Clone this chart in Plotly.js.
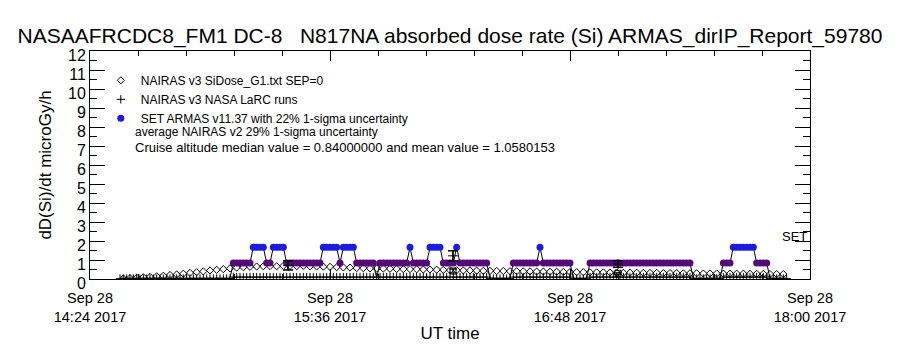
<!DOCTYPE html>
<html>
<head>
<meta charset="utf-8">
<script src="https://cdn.plot.ly/plotly-3.0.1.min.js"></script>
<style>html,body{margin:0;padding:0;background:#fff;}#chart{width:900px;height:350px;}</style>
</head>
<body>
<div id="chart"></div>
<script>
// ---- data (minutes after 2017-09-28 14:24 UT) ----
const armasStartMin = 9;          // first ARMAS sample
const armasCadenceMin = 1;        // ARMAS sample spacing
const armasDose = [
 0.05,0.05,0.05,0.05,0.05,0.05,0.05,0.05,0.05,0.05,0.05,0.05,0.05,0.05,0.05,0.05,0.05,
 0.05,0.05,0.05,0.05,0.05,0.05,0.05,0.05,0.05,0.05,0.05,0.05,0.05,0.05,0.05,0.05,0.05,
 0.84,0.84,0.84,0.84,0.84,0.84,
 1.67,1.67,1.67,1.67,
 0.84,0.84,
 1.67,1.67,1.67,1.67,
 0.84,0.84,0.84,0.84,0.84,0.84,0.84,0.84,0.84,0.84,0.84,
 1.67,1.67,1.67,1.67,1.67,
 0.84,
 1.67,1.67,1.67,1.67,
 0.84,0.84,0.84,0.84,0.84,0.84,
 0.05,
 0.84,0.84,0.84,0.84,0.84,0.84,0.84,0.84,0.84,
 1.67,
 0.84,0.84,0.84,0.84,0.84,
 1.67,1.67,1.67,1.67,
 0.84,0.84,0.84,0.84,
 1.67,
 0.84,0.84,0.84,0.84,0.84,0.84,0.84,0.84,0.84,
 0.05,0.05,0.05,0.05,0.05,0.05,0.05,
 0.84,0.84,0.84,0.84,0.84,0.84,0.84,0.84,
 1.67,
 0.84,0.84,0.84,0.84,0.84,0.84,0.84,0.84,0.84,
 0.05,0.05,0.05,0.05,0.05,
 0.84,0.84,0.84,0.84,0.84,0.84,0.84,0.84,0.84,0.84,0.84,0.84,0.84,0.84,0.84,0.84,
 0.84,0.84,0.84,0.84,0.84,0.84,0.84,0.84,0.84,0.84,0.84,0.84,0.84,0.84,0.84,
 0.05,0.05,0.05,0.05,0.05,0.05,0.05,0.05,0.05,
 0.84,0.84,0.84,
 1.67,1.67,1.67,1.67,1.67,1.67,1.67,
 0.84,0.84,0.84,0.84,
 0.05,0.05,0.05,0.05,0.05,0.05
];

const larcStartMin = 9;
const larcCadenceMin = 1;
const larcDose = [
 0.02,0.02,0.02,0.02,0.02,0.02,0.02,0.02,0.02,0.02,0.02,0.02,0.02,0.02,0.02,0.02,0.02,
 0.02,0.02,0.02,0.02,0.02,0.02,0.02,0.02,0.02,0.02,0.02,0.02,0.02,0.02,0.02,0.02,0.02,
 0.1,0.1,0.1,0.1,0.1,0.1,0.1,0.1,0.1,0.1,0.1,0.1,0.1,0.1,0.1,0.1,0.1,0.1,0.1,0.1,
 0.1,0.1,0.1,0.1,0.1,0.1,0.1,0.1,0.1,0.1,0.1,0.1,0.1,0.1,0.1,0.1,0.1,0.1,0.1,0.1,
 0.1,0.1,0.1,0.1,0.1,0.1,0.1,0.1,0.1,0.1,0.1,0.1,0.1,0.1,0.1,0.1,0.1,0.1,0.1,0.1,
 0.1,0.1,0.1,0.1,0.1,0.1,0.1,0.1,0.1,0.1,0.1,0.1,0.1,0.1,0.1,0.1,0.1,
 0.02,0.02,0.02,0.02,0.02,0.02,0.02,
 0.1,0.1,0.1,0.1,0.1,0.1,0.1,0.1,0.1,0.1,0.1,0.1,0.1,0.1,0.1,0.1,0.1,0.1,
 0.02,0.02,0.02,0.02,0.02,
 0.1,0.1,0.1,0.1,0.1,0.1,0.1,0.1,0.1,0.1,0.1,0.1,0.1,0.1,0.1,0.1,
 0.1,0.1,0.1,0.1,0.1,0.1,0.1,0.1,0.1,0.1,0.1,0.1,0.1,0.1,0.1,
 0.02,0.02,0.02,0.02,0.02,0.02,0.02,0.02,0.02,
 0.1,0.1,0.1,0.1,0.1,0.1,0.1,0.1,0.1,0.1,0.1,0.1,0.1,0.1,
 0.02,0.02,0.02,0.02,0.02,0.02
];

const nairasStartMin = 10;
const nairasCadenceMin = 2;
const nairasDose = [
 0.03,0.05,0.07,0.09,0.11,0.14,0.17,0.21,0.24,0.28,0.32,0.36,0.40,0.45,0.48,0.52,0.56,0.60,0.62,0.64,
 0.66,0.67,0.68,0.67,0.69,0.69,0.68,0.69,0.67,0.66,0.65,0.64,0.62,0.61,0.60,0.58,0.57,0.56,0.55,0.55,
 0.54,0.53,0.52,0.52,0.51,0.50,0.50,0.49,0.48,0.47,0.46,0.45,0.45,0.44,0.43,0.43,0.42,0.42,0.41,0.41,
 0.40,0.40,0.39,0.39,0.38,0.38,0.37,0.37,0.36,0.36,0.35,0.35,0.35,0.34,0.34,0.33,0.33,0.33,0.32,0.32,
 0.32,0.31,0.31,0.31,0.30,0.30,0.30,0.29,0.29,0.29,0.28,0.28,0.28,0.28,0.27,0.27,0.27,0.26,0.26,0.26
];

const errMin = [59.4, 108.9, 158.4];
const errDose = [0.72, 1.22, 0.79];
const errSigma = [0.24, 0.27, 0.17];
const errLowMin = [108.9, 158.4];
const errLowDose = [0.42, 0.30];
const errLowSigma = [0.10, 0.05];

const xTickMin = [0, 72, 144, 216];
const xTickText = ['Sep 28<br>14:24 2017','Sep 28<br>15:36 2017','Sep 28<br>16:48 2017','Sep 28<br>18:00 2017'];

const PURPLE = '#560a7a', BLUE = '#1c1ce0';

function minToDate(m) {
  let s = Math.round((14*60 + 24 + m) * 60);
  const h = Math.floor(s/3600); s -= h*3600;
  const mi = Math.floor(s/60); const se = s - mi*60;
  const p = v => String(v).padStart(2,'0');
  return '2017-09-28 ' + p(h) + ':' + p(mi) + ':' + p(se);
}
const seriesX = (start, step, arr) => arr.map((_, i) => minToDate(start + i*step));

const ax = seriesX(armasStartMin, armasCadenceMin, armasDose);
const px = [], py = [], bx = [], by = [];
armasDose.forEach((v, i) => {
  if (v > 1.2) { bx.push(ax[i]); by.push(v); }
  else if (v > 0.5) { px.push(ax[i]); py.push(v); }
});

const traces = [
  {x: seriesX(nairasStartMin, nairasCadenceMin, nairasDose), y: nairasDose, mode: 'markers', type: 'scatter',
   name: 'NAIRAS v3 SiDose_G1.txt SEP=0',
   marker: {symbol: 'diamond-open', size: 5.5, color: '#000', line: {width: 1, color: '#000'}}},
  {x: seriesX(larcStartMin, larcCadenceMin, larcDose), y: larcDose, mode: 'markers', type: 'scatter',
   name: 'NAIRAS v3 NASA LaRC runs',
   marker: {symbol: 'cross-thin-open', size: 6, color: '#000', line: {width: 1, color: '#000'}}},
  {x: ax, y: armasDose, mode: 'lines', type: 'scatter', showlegend: false,
   line: {color: '#000', width: 1}},
  {x: px, y: py, mode: 'markers', type: 'scatter', showlegend: false,
   marker: {symbol: 'circle', size: 7, color: PURPLE}},
  {x: bx, y: by, mode: 'markers', type: 'scatter',
   name: 'SET ARMAS v11.37 with 22% 1-sigma uncertainty',
   marker: {symbol: 'circle', size: 7, color: BLUE}},
  {x: errMin.map(minToDate), y: errDose, mode: 'markers', type: 'scatter', showlegend: false,
   marker: {symbol: 'cross-thin-open', size: 7, color: '#000', line: {width: 1, color: '#000'}},
   error_y: {type: 'data', array: errSigma, visible: true, color: '#000', thickness: 1.5, width: 5}},
  {x: errLowMin.map(minToDate), y: errLowDose, mode: 'markers', type: 'scatter', showlegend: false,
   marker: {symbol: 'square-open', size: 6, color: '#000', line: {width: 1, color: '#000'}},
   error_y: {type: 'data', array: errLowSigma, visible: true, color: '#000', thickness: 1, width: 4}}
];

const FONT = 'Liberation Sans, Arial, sans-serif';
const minorX = [];
for (let k = 0; k <= 15; k++) minorX.push(minToDate(k*14.4));

const layout = {
  width: 900, height: 350,
  margin: {l: 90, r: 90, t: 51, b: 71, pad: 0},
  paper_bgcolor: '#fff', plot_bgcolor: '#fff',
  font: {family: FONT, color: '#000', size: 14},
  title: {text: 'NASAAFRCDC8_FM1 DC-8   N817NA absorbed dose rate (Si) ARMAS_dirIP_Report_59780',
          font: {family: FONT, size: 21, color: '#000'}, x: 0.5, xanchor: 'center',
          y: 1 - 36/350, yref: 'container', yanchor: 'middle'},
  xaxis: {
    type: 'date', range: [minToDate(0), minToDate(216)],
    tickmode: 'array', tickvals: xTickMin.map(minToDate), ticktext: xTickText,
    ticks: 'inside', ticklen: 10, tickwidth: 1, tickcolor: '#000',
    showline: true, linecolor: '#000', linewidth: 1, mirror: 'allticks',
    showgrid: false, zeroline: false,
    tickfont: {family: FONT, size: 14.5, color: '#000'}, ticklabelstandoff: 6,
    minor: {ticks: 'inside', ticklen: 5, tickwidth: 1, tickcolor: '#000', tickmode: 'array', tickvals: minorX, showgrid: false},
    title: {text: 'UT time', font: {family: FONT, size: 17, color: '#000'}, standoff: 2}
  },
  yaxis: {
    range: [0, 12], tickmode: 'linear', tick0: 0, dtick: 1,
    ticks: 'inside', ticklen: 15, tickwidth: 1, tickcolor: '#000',
    showline: true, linecolor: '#000', linewidth: 1, mirror: 'allticks',
    showgrid: false, zeroline: false,
    tickfont: {family: FONT, size: 16, color: '#000'}, ticklabelshift: 4,
    minor: {ticks: 'inside', ticklen: 7, tickwidth: 1, tickcolor: '#000', dtick: 0.5, showgrid: false},
    title: {text: 'dD(Si)/dt microGy/h', font: {family: FONT, size: 17, color: '#000'}, standoff: 12}
  },
  legend: {x: 0.015, y: 0.935, xanchor: 'left', yanchor: 'top', bgcolor: 'rgba(0,0,0,0)',
           font: {family: FONT, size: 12, color: '#000'}, tracegroupgap: 0, itemwidth: 30},
  showlegend: true,
  annotations: [
    {xref: 'paper', yref: 'paper', x: (133-90)/720, y: (279-132)/228, xanchor: 'left', yanchor: 'middle',
     text: 'average NAIRAS v2 29% 1-sigma uncertainty', showarrow: false, font: {family: FONT, size: 12, color: '#000'}},
    {xref: 'paper', yref: 'paper', x: (133-90)/720, y: (279-147)/228, xanchor: 'left', yanchor: 'middle',
     text: 'Cruise altitude median value = 0.84000000 and mean value = 1.0580153', showarrow: false, font: {family: FONT, size: 13, color: '#000'}},
    {xref: 'paper', yref: 'paper', x: (780-90)/720, y: (279-236)/228, xanchor: 'left', yanchor: 'middle',
     text: 'SET', showarrow: false, font: {family: FONT, size: 13, color: '#000'}}
  ]
};

Plotly.newPlot('chart', traces, layout, {staticPlot: true, displayModeBar: false});
</script>
</body>
</html>
